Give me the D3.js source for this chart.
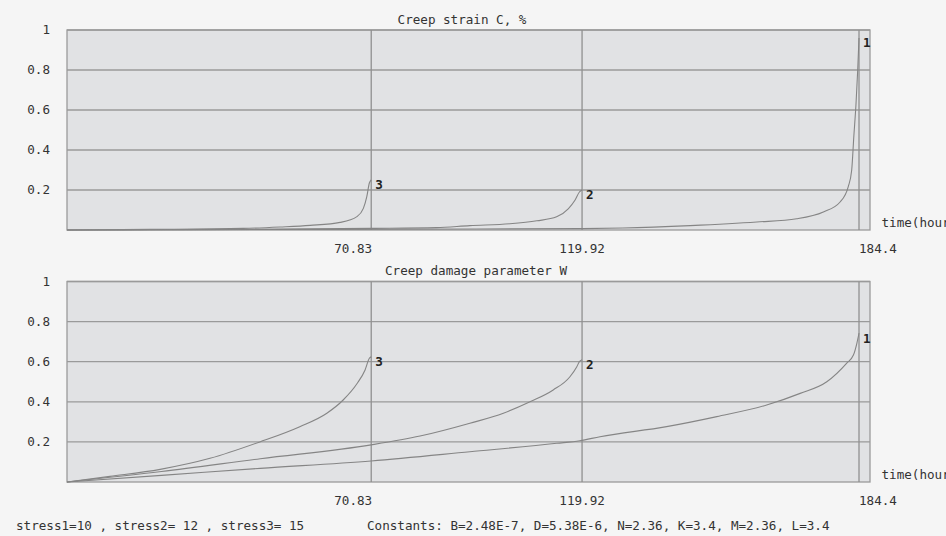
<!DOCTYPE html>
<html>
<head>
<meta charset="utf-8">
<script src="https://cdn.jsdelivr.net/npm/d3@7"></script>
<style>
  html, body { margin: 0; padding: 0; background: #f5f5f5; }
  svg { display: block; }
  text { font-family: 'DejaVu Sans Mono', monospace; font-size: 12.6px; fill: #333; }
  .lbl { font-weight: bold; fill: #222; }
</style>
</head>
<body>
<div id="chart"></div>
<script>
// time ticks (hours) where each curve ends
const timeTicks = [70.83, 119.92, 184.4];
const yTicks = [0.2, 0.4, 0.6, 0.8, 1];
const curveNames = ['1', '2', '3'];

// creep strain C, % : [time, value]
const strain1 = [[0, 0], [60, 0.003], [120, 0.007], [129.4, 0.01], [145.1, 0.022], [160.6, 0.04], [169.9, 0.056],
  [176.1, 0.09], [180.0, 0.14], [181.9, 0.217], [182.7, 0.3], [183.2, 0.47], [183.7, 0.63], [184.1, 0.8], [184.4, 0.96]];
const strain2 = [[0, 0], [40, 0.003], [70.83, 0.008], [86, 0.012], [93.8, 0.022], [103.1, 0.031], [109.4, 0.046],
  [114.0, 0.066], [116.7, 0.106], [118.3, 0.15], [119.3, 0.19], [119.92, 0.2]];
const strain3 = [[0, 0], [19.3, 0.003], [41.0, 0.008], [49.6, 0.015], [56.6, 0.023], [63.6, 0.038], [67.5, 0.067],
  [69.0, 0.108], [69.8, 0.167], [70.4, 0.235], [70.83, 0.25]];

// creep damage parameter W : [time, value]
const damage1 = [[0, 0], [22, 0.033], [45, 0.068], [70.83, 0.105], [93.8, 0.151], [114.0, 0.193], [119.4, 0.206],
  [124.1, 0.226], [139.6, 0.276], [151.3, 0.326], [162.9, 0.384], [170.7, 0.442], [176.9, 0.5], [181.5, 0.592],
  [183.1, 0.633], [183.9, 0.692], [184.4, 0.742]];
const damage2 = [[0, 0], [22, 0.052], [45, 0.116], [70.83, 0.185], [82.2, 0.229], [93.8, 0.293], [101.6, 0.343],
  [107.8, 0.4], [113.2, 0.459], [117.1, 0.525], [118.7, 0.575], [119.3, 0.6], [119.92, 0.61]];
const damage3 = [[0, 0], [10, 0.028], [21.7, 0.063], [33.3, 0.118], [44.9, 0.2], [54.2, 0.276], [60.5, 0.343],
  [64.3, 0.409], [67.5, 0.49], [69.4, 0.559], [70.4, 0.617], [70.83, 0.625]];

const W = 946, H = 536;
const svg = d3.select('#chart').append('svg').attr('width', W).attr('height', H);
svg.append('rect').attr('width', W).attr('height', H).attr('fill', '#f5f5f5');

const x = d3.scaleLinear().domain([0, 186.96]).range([67, 870]);

const panels = [
  { title: 'Creep strain C, %', titleX: 462, top: 30, bottom: 230, series: [strain1, strain2, strain3] },
  { title: 'Creep damage parameter W', titleX: 476, top: 281.5, bottom: 482, series: [damage1, damage2, damage3] },
];

panels.forEach(p => {
  const y = d3.scaleLinear().domain([0, 1]).range([p.bottom, p.top]);
  const g = svg.append('g');

  g.append('rect')
    .attr('x', x.range()[0]).attr('y', p.top)
    .attr('width', x.range()[1] - x.range()[0]).attr('height', p.bottom - p.top)
    .attr('fill', '#e1e2e4').attr('stroke', '#9a9a9a').attr('stroke-width', 1.3);

  // horizontal grid
  g.selectAll('.hg').data(yTicks).join('line')
    .attr('x1', x.range()[0]).attr('x2', x.range()[1])
    .attr('y1', d => y(d)).attr('y2', d => y(d))
    .attr('stroke', '#9a9a9a').attr('stroke-width', 1.3);

  // vertical lines at failure times
  g.selectAll('.vg').data(timeTicks).join('line')
    .attr('x1', d => x(d)).attr('x2', d => x(d))
    .attr('y1', p.top).attr('y2', p.bottom)
    .attr('stroke', '#909090').attr('stroke-width', 1.3);

  // y tick labels
  g.selectAll('.yl').data(yTicks).join('text')
    .attr('x', 50).attr('y', d => y(d)).attr('dy', '0.35em')
    .attr('text-anchor', 'end')
    .text(d => d3.format('~g')(d));

  // x tick labels
  const anchors = ['end', 'middle', 'start'];
  g.selectAll('.xl').data(timeTicks).join('text')
    .attr('x', (d, i) => x(d) + (i === 0 ? 1 : 0))
    .attr('y', p.bottom + 18.5).attr('dy', '0.35em')
    .attr('text-anchor', (d, i) => anchors[i])
    .text(d => d);

  // axis name runs off the right edge, as in the original
  g.append('text').attr('x', 881.5).attr('y', p.bottom - 7.5).attr('dy', '0.35em').text('time(hours)');
  g.append('text').attr('x', p.titleX).attr('y', p.top - 10.5).attr('dy', '0.35em')
    .attr('text-anchor', 'middle').text(p.title);

  const line = d3.line().curve(d3.curveMonotoneX).x(d => x(d[0])).y(d => y(d[1]));
  p.series.forEach((s, i) => {
    g.append('path').datum(s).attr('d', line)
      .attr('fill', 'none').attr('stroke', '#858585').attr('stroke-width', 1.1);
    const last = s[s.length - 1];
    g.append('text').attr('class', 'lbl')
      .attr('x', x(last[0]) + 4).attr('y', y(last[1]) + 5).attr('dy', '0.35em')
      .text(curveNames[i]);
  });
});

svg.append('text').attr('x', 16).attr('y', 526).attr('dy', '0.35em')
  .text('stress1=10 , stress2= 12 , stress3= 15');
svg.append('text').attr('x', 367).attr('y', 526).attr('dy', '0.35em')
  .text('Constants: B=2.48E-7, D=5.38E-6, N=2.36, K=3.4, M=2.36, L=3.4');
</script>
</body>
</html>
